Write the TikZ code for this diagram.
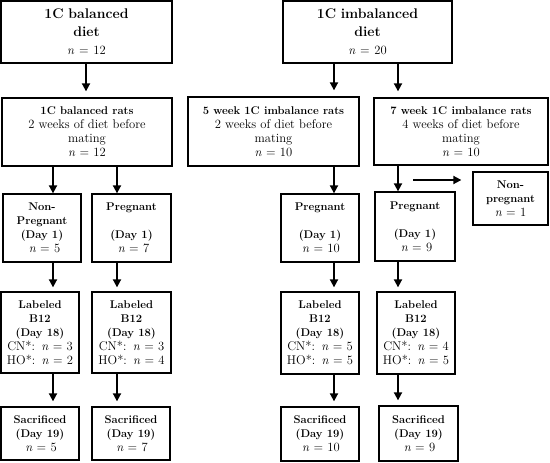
\documentclass[tikz,border=0pt]{standalone}
\usetikzlibrary{arrows.meta}
\newcommand\bt[1]{{\fontsize{11.2}{14}\selectfont\bfseries #1}}
\begin{document}
\begin{tikzpicture}[x=1pt,y=-1pt,
  box/.style={draw=black,line width=1.3pt,inner sep=0pt,align=center,
    font=\fontsize{12.6}{14}\selectfont},
  arr/.style={line width=1.8pt,-{Triangle[length=8pt,width=8pt]}},
  ttl/.style={font=\fontsize{14}{18}\selectfont}
]
\useasboundingbox (0,0) rectangle (550,463);
% row 1
\node[box,ttl,text width=171pt,minimum height=62pt] (b1) at (86.5,32)
  {\textbf{1C balanced}\\\textbf{diet}\\{\fontsize{12.6}{14}\selectfont\textit{n} = 12}};
\node[box,ttl,text width=169pt,minimum height=62pt] (b2) at (367.5,32)
  {\textbf{1C imbalanced}\\\textbf{diet}\\{\fontsize{12.6}{14}\selectfont\textit{n} = 20}};
% row 2
\node[box,text width=170pt,minimum height=68pt] (b3) at (87,132)
  {\bt{1C balanced rats}\\2 weeks of diet before\\mating\\\textit{n} = 12};
\node[box,text width=171pt,minimum height=69pt] (b4) at (273.5,131.5)
  {\bt{5 week 1C imbalance rats}\\2 weeks of diet before\\mating\\\textit{n} = 10};
\node[box,text width=174pt,minimum height=67pt] (b5) at (461,131.5)
  {\bt{7 week 1C imbalance rats}\\4 weeks of diet before\\mating\\\textit{n} = 10};
% row 3
\node[box,text width=78pt,minimum height=68pt] (r3a) at (42,228)
  {\bt{Non-}\\\bt{Pregnant}\\\bt{(Day 1)}\\\hspace*{5pt}\textit{n} = 5};
\node[box,text width=79pt,minimum height=68pt] (r3b) at (131.5,228)
  {\bt{Pregnant}\\[14pt]\bt{(Day 1)}\\\hspace*{4pt}\textit{n} = 7};
\node[box,text width=78pt,minimum height=68pt] (r3c) at (320,228)
  {\bt{Pregnant}\\[14pt]\bt{(Day 1)}\\\hspace*{2pt}\textit{n} = 10};
\node[box,text width=80pt,minimum height=69pt] (r3d) at (415,226.5)
  {\bt{Pregnant}\\[14pt]\bt{(Day 1)}\\\hspace*{3pt}\textit{n} = 9};
\node[box,text width=75pt,minimum height=53pt] (np) at (510.5,198.5)
  {\bt{Non-}\\\bt{pregnant}\\\textit{n} = 1};
% row 4
\node[box,text width=78pt,minimum height=81pt] (r4a) at (40,332.5)
  {\bt{Labeled}\\\bt{B12}\\\bt{(Day 18)}\\CN*: \textit{n} = 3\\HO*: \textit{n} = 2};
\node[box,text width=79pt,minimum height=81pt] (r4b) at (131.5,332.5)
  {\bt{Labeled}\\\bt{B12}\\\bt{(Day 18)}\\CN*: \textit{n} = 3\\HO*: \textit{n} = 4};
\node[box,text width=78pt,minimum height=82pt] (r4c) at (320,333)
  {\bt{Labeled}\\\bt{B12}\\\bt{(Day 18)}\\CN*: \textit{n} = 5\\HO*: \textit{n} = 5};
\node[box,text width=78pt,minimum height=82pt] (r4d) at (416,333)
  {\bt{Labeled}\\\bt{B12}\\\bt{(Day 18)}\\CN*: \textit{n} = 4\\HO*: \textit{n} = 5};
% row 5
\node[box,text width=78pt,minimum height=53pt] (r5a) at (40,433.5)
  {\bt{Sacrificed}\\\bt{(Day 19)}\\\hspace*{2pt}\textit{n} = 5};
\node[box,text width=78pt,minimum height=53pt] (r5b) at (131,433.5)
  {\bt{Sacrificed}\\\bt{(Day 19)}\\\hspace*{2pt}\textit{n} = 7};
\node[box,text width=78pt,minimum height=54pt] (r5c) at (320,434)
  {\bt{Sacrificed}\\\bt{(Day 19)}\\\hspace*{2pt}\textit{n} = 10};
\node[box,text width=79pt,minimum height=55pt] (r5d) at (418.5,433.5)
  {\bt{Sacrificed}\\\bt{(Day 19)}\\\hspace*{2pt}\textit{n} = 9};
% arrows
\draw[arr,shorten >=6pt] (86,0 |- b1.south) -- (86,0 |- b3.north);
\draw[arr,shorten >=6pt] (334,0 |- b2.south) -- (334,0 |- b4.north);
\draw[arr,shorten >=6pt] (398,0 |- b2.south) -- (398,0 |- b5.north);
\draw[arr] (53,0 |- b3.south) -- (53,0 |- r3a.north);
\draw[arr] (117,0 |- b3.south) -- (117,0 |- r3b.north);
\draw[arr] (334,0 |- b4.south) -- (334,0 |- r3c.north);
\draw[arr] (398,0 |- b5.south) -- (398,0 |- r3d.north);
\coordinate (hs) at (413,180);
\draw[arr,shorten >=11pt] (hs) -- (hs -| np.west);
\draw[arr,shorten >=4pt] (53,0 |- r3a.south) -- (53,0 |- r4a.north);
\draw[arr,shorten >=4pt] (117,0 |- r3b.south) -- (117,0 |- r4b.north);
\draw[arr,shorten >=4pt] (334,0 |- r3c.south) -- (334,0 |- r4c.north);
\draw[arr,shorten >=4pt] (398,0 |- r3d.south) -- (398,0 |- r4d.north);
\draw[arr,shorten >=5pt] (53,0 |- r4a.south) -- (53,0 |- r5a.north);
\draw[arr,shorten >=5pt] (117,0 |- r4b.south) -- (117,0 |- r5b.north);
\draw[arr,shorten >=5pt] (334,0 |- r4c.south) -- (334,0 |- r5c.north);
\draw[arr,shorten >=5pt] (398,0 |- r4d.south) -- (398,0 |- r5d.north);
\end{tikzpicture}
\end{document}
